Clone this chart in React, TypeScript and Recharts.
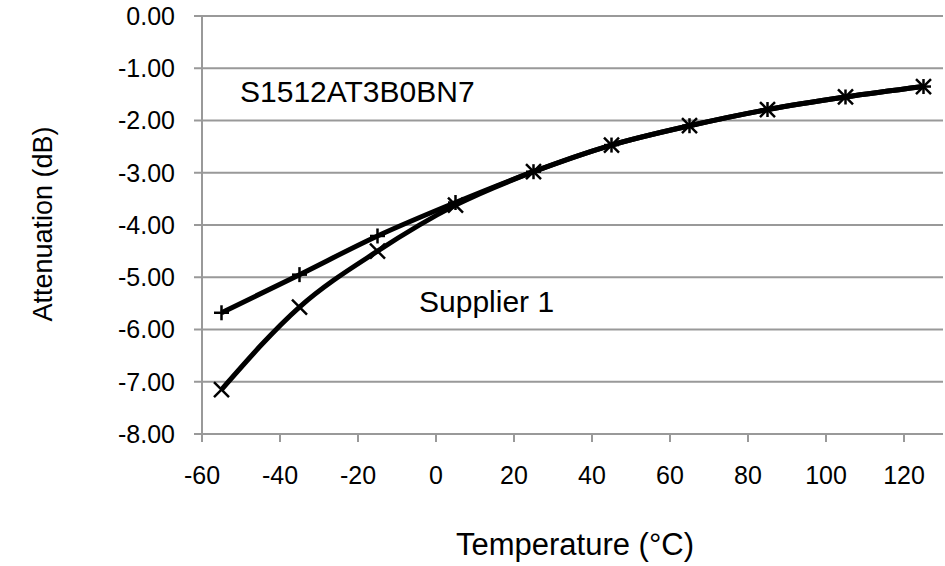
import React from 'react';
import { LineChart, Line, XAxis, YAxis, CartesianGrid, Customized } from 'recharts';

const temperatures = [-55, -35, -15, 5, 25, 45, 65, 85, 105, 125];
const seriesPlus = [-5.68, -4.95, -4.21, -3.57, -2.98, -2.47, -2.1, -1.79, -1.55, -1.35];
const seriesCross = [-7.15, -5.57, -4.5, -3.62, -2.98, -2.47, -2.1, -1.79, -1.55, -1.35];
const xTicks = [-60, -40, -20, 0, 20, 40, 60, 80, 100, 120];
const yTicks = [0, -1, -2, -3, -4, -5, -6, -7, -8];
const labelTop = 'S1512AT3B0BN7';
const labelSupplier = 'Supplier 1';
const xTitle = 'Temperature (°C)';
const yTitle = 'Attenuation (dB)';

const data = temperatures.map((t, i) => ({ t, plus: seriesPlus[i], cross: seriesCross[i] }));

const FONT = '"Liberation Sans", Arial, sans-serif';

const PlusDot = (props: any) => {
  const { cx, cy, index } = props;
  if (cx == null || cy == null) return <g key={index} />;
  const r = 7.5;
  return (
    <g key={`p${index}`}>
      <line x1={cx - r} y1={cy} x2={cx + r} y2={cy} stroke="#000" strokeWidth={2.5} />
      <line x1={cx} y1={cy - r} x2={cx} y2={cy + r} stroke="#000" strokeWidth={2.5} />
    </g>
  );
};

const CrossDot = (props: any) => {
  const { cx, cy, index } = props;
  if (cx == null || cy == null) return <g key={index} />;
  const r = 7.5;
  return (
    <g key={`c${index}`}>
      <line x1={cx - r} y1={cy - r} x2={cx + r} y2={cy + r} stroke="#000" strokeWidth={2.5} />
      <line x1={cx - r} y1={cy + r} x2={cx + r} y2={cy - r} stroke="#000" strokeWidth={2.5} />
    </g>
  );
};

const Annotations = () => (
  <g fontFamily={FONT} fill="#000">
    <text x={240} y={102} fontSize={30}>{labelTop}</text>
    <text x={419} y={312} fontSize={30}>{labelSupplier}</text>
    <text x={575} y={555} fontSize={31} textAnchor="middle">{xTitle}</text>
    <text x={52} y={224} fontSize={27} textAnchor="middle" transform="rotate(-90 52 224)">{yTitle}</text>
  </g>
);

export default function App() {
  return (
    <div style={{ position: 'absolute', left: 0, top: 0, width: 945, height: 566, background: '#fff' }}>
      <LineChart width={945} height={566} data={data} margin={{ top: 16, right: 2, bottom: 0, left: 0 }}>
        <CartesianGrid vertical={false} stroke="#999" strokeWidth={2} />
        <XAxis
          dataKey="t"
          type="number"
          domain={[-60, 130]}
          ticks={xTicks}
          allowDataOverflow
          stroke="#999"
          strokeWidth={2}
          tickSize={8}
          tickMargin={24}
          height={132}
          tick={{ fill: '#000', fontSize: 25, fontFamily: FONT }}
        />
        <YAxis
          type="number"
          domain={[-8, 0]}
          ticks={yTicks}
          width={202}
          stroke="#999"
          strokeWidth={2}
          tickSize={8}
          tickMargin={19}
          tickFormatter={(v: number) => v.toFixed(2)}
          tick={{ fill: '#000', fontSize: 25, fontFamily: FONT }}
        />
        <Line type="monotone" dataKey="plus" stroke="#000" strokeWidth={5} dot={<PlusDot />} isAnimationActive={false} />
        <Line type="monotone" dataKey="cross" stroke="#000" strokeWidth={5} dot={<CrossDot />} isAnimationActive={false} />
        <Customized component={Annotations} />
      </LineChart>
    </div>
  );
}
